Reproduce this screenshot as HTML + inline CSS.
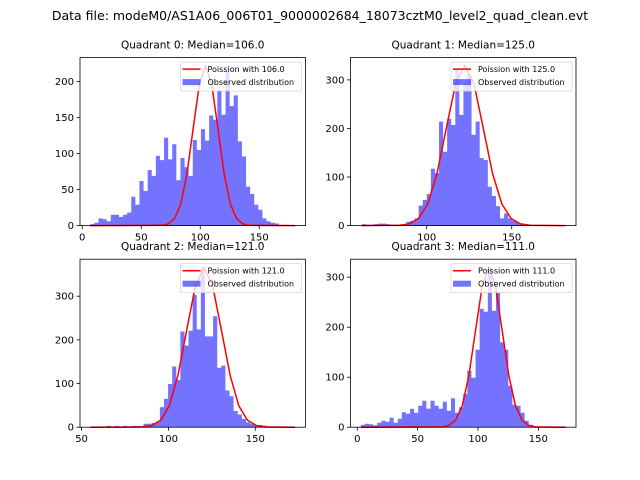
<!DOCTYPE html>
<html><head><meta charset="utf-8"><style>body{margin:0;background:#fff}svg{display:block}text{font-family:"DejaVu Sans","Liberation Sans",sans-serif}</style></head>
<body>
<svg id="fig" width="640" height="480">
<text x="320" y="20" font-size="12.5" text-anchor="middle">Data file: modeM0/AS1A06_006T01_9000002684_18073cztM0_level2_quad_clean.evt</text>
</svg>
<script>
const q0Counts=[2,4,10,9,6,15,15,12,15,18,40,29,62,48,77,69,97,91,122,92,113,63,94,81,69,119,105,134,118,153,147,188,154,214,166,181,117,96,54,44,29,22,10,6,4,3,1,1,1,0];
const q1Counts=[3,2,2,3,4,4,3,2,2,2,3,8,10,15,41,53,65,117,108,214,152,220,207,324,228,293,312,187,214,139,135,80,61,40,15,25,15,10,6,4,3,2,1,1,1,0,1,0,1,1];
const q2Counts=[0,0,0,0,3,1,3,1,3,1,3,3,3,8,8,10,12,46,65,99,139,108,219,187,221,303,224,365,208,208,254,136,141,84,71,37,29,19,11,8,5,5,4,2,1,1,0,1,0,0];
const q3Counts=[5,7,6,4,9,13,11,19,9,17,30,27,37,29,43,53,37,53,43,37,51,33,58,29,40,67,113,99,155,237,231,320,233,271,170,155,83,45,43,29,13,5,2,1,0,0,0,0,0,0];
const q0CurveX=[6.8,67.75,73,78.25,83.5,88.75,94,99.25,104.5,109.75,115,120.25,125.5,130.75,136,141.25,180.5];
const q0CurveY=[0,0.4,2.4,10,30,72,135,196,222,196,135,72,30,10,2.4,0.4,0];
const q1CurveX=[61.8,84.25,89.7,95.15,100.6,106.05,111.5,116.95,122.4,127.85,133.3,138.75,144.2,149.65,155.1,160.55,181.4];
const q1CurveY=[0,0.7,3.6,14.5,44.5,107,200,291,330,291,200,107,44.5,14.5,3.6,0.7,0];
const q2CurveX=[55,85.5,90.5,95.5,100.5,105.5,110.5,115.5,120.5,125.5,130.5,135.5,140.5,145.5,150.5,155.5,172.9];
const q2CurveY=[0,0.7,4,16,49,119,222,323,366,323,222,119,49,16,4,0.7,0];
const q3CurveX=[3,70.5,76,81.5,87,92.5,98,103.5,109,114.5,120,125.5,131,136.5,142,147.5,172.6];
const q3CurveY=[0,0.6,3.5,14,43,104,194,282,320,282,194,104,43,14,3.5,0.6,0];
const binRanges=[[6.8,180.5],[61.8,181.4],[55,172.9],[3,172.6]];
const xLims=[[-1.9,189.2],[55.2,187.8],[49.1,178.9],[-5.6,181.2]];
const yLims=[[0,233.4],[0,345.9],[0,384.7],[0,336]];
const xTicks=[[0,50,100,150],[100,150],[50,100,150],[0,50,100,150]];
const yTicks=[[0,50,100,150,200],[0,100,200,300],[0,100,200,300],[0,100,200,300]];
const titles=["Quadrant 0: Median=106.0","Quadrant 1: Median=125.0","Quadrant 2: Median=121.0","Quadrant 3: Median=111.0"];
const legendLabels=["Poission with 106.0","Poission with 125.0","Poission with 121.0","Poission with 111.0"];
const counts=[q0Counts,q1Counts,q2Counts,q3Counts];
const curvesX=[q0CurveX,q1CurveX,q2CurveX,q3CurveX];
const curvesY=[q0CurveY,q1CurveY,q2CurveY,q3CurveY];
const boxes=[[80,57.6],[350.5,57.6],[80,259.2],[350.5,259.2]];
const W=225.5,H=168;
const svg=document.getElementById('fig');
const NS='http://www.w3.org/2000/svg';
function mk(tag,attrs,parent){const e=document.createElementNS(NS,tag);for(const k in attrs)e.setAttribute(k,attrs[k]);(parent||svg).appendChild(e);return e;}
for(let p=0;p<4;p++){
  const [L,T]=boxes[p];
  const xs=v=>L+(v-xLims[p][0])/(xLims[p][1]-xLims[p][0])*W;
  const ys=v=>T+H-(v-yLims[p][0])/(yLims[p][1]-yLims[p][0])*H;
  const g=mk('g',{});
  
  
  const c=counts[p],[b0,b1]=binRanges[p],bw=(b1-b0)/c.length;
  let d='M'+xs(b0)+','+ys(0);
  c.forEach((v,i)=>{
    d+=' L'+xs(b0+i*bw)+','+ys(v)+' L'+xs(b0+(i+1)*bw)+','+ys(v);
  });
  d+=' L'+xs(b1)+','+ys(0)+' Z';
  const hist=mk('path',{d:d,fill:'#0000ff','fill-opacity':0.55,stroke:'none'},g);
  
  
  const pts=curvesX[p].map((x,i)=>xs(x)+','+ys(curvesY[p][i])).join(' ');
  const pl=mk('polyline',{points:pts,fill:'none',stroke:'#ff0000','stroke-width':1.5,'stroke-linejoin':'round'},g);
  
  
  const fr=mk('rect',{x:L,y:T,width:W,height:H,fill:'none',stroke:'#000','stroke-width':0.8},g);
  
  
  xTicks[p].forEach(v=>{
    const x=xs(v);
    mk('line',{x1:x,x2:x,y1:T+H,y2:T+H+3.5,stroke:'#000','stroke-width':0.8},g);
    const t=mk('text',{x:x,y:T+H+15,'font-size':10,'text-anchor':'middle'},g);
    t.textContent=v;
    
    
  });
  yTicks[p].forEach(v=>{
    const y=ys(v);
    mk('line',{x1:L-3.5,x2:L,y1:y,y2:y,stroke:'#000','stroke-width':0.8},g);
    const t=mk('text',{x:L-6,y:y+3.5,'font-size':10,'text-anchor':'end'},g);
    t.textContent=v;
    
    
  });
  const tt=mk('text',{x:L+W/2,y:T-9,'font-size':10.5,'text-anchor':'middle'},g);
  tt.textContent=titles[p];
  
  
  const lg=mk('g',{},g);
  
  
  const lx=L+W-125,ly=T+4.5;
  mk('rect',{x:lx,y:ly,width:121,height:29,fill:'#fff','fill-opacity':0.8,stroke:'#ccc','stroke-width':0.6,rx:1.5},lg);
  mk('line',{x1:lx+2,x2:lx+20,y1:ly+7,y2:ly+7,stroke:'#ff0000','stroke-width':1.5},lg);
  mk('rect',{x:lx+2,y:ly+17,width:18,height:6,fill:'#0000ff','fill-opacity':0.55},lg);
  const t1=mk('text',{x:lx+27,y:ly+10,'font-size':8},lg);t1.textContent=legendLabels[p];
  
  
  const t2=mk('text',{x:lx+27,y:ly+23,'font-size':8},lg);t2.textContent='Observed distribution';
  
  
}
</script>
</body></html>
